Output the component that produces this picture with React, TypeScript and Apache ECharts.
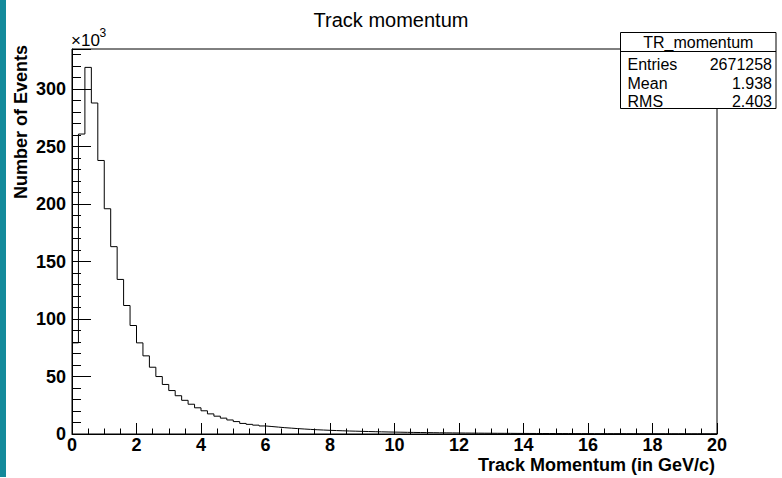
import React, { useEffect, useRef } from "react";
import * as echarts from "echarts";

// Histogram: 100 bins of 0.2 GeV/c from 0 to 20, counts in thousands (×10^3)
const binWidth = 0.2;
const xMin = 0;
const xMax = 20;
const countsK = [
  79.3, 261, 319, 288, 238, 196, 163, 134.5, 111.8, 94.4,
  79.3, 68.0, 58.1, 50.0, 43.1, 37.8, 33.3, 29.3, 25.9, 22.8,
  20.2, 17.5, 15.5, 13.8, 12.2, 10.8, 9.2, 8.4, 7.7, 7.0,
  6.5, 6.0, 5.5, 5.1, 4.7, 4.35, 4.0, 3.7, 3.45, 3.2,
  3.0, 2.8, 2.6, 2.45, 2.3, 2.15, 2.0, 1.88, 1.76, 1.65,
  1.55, 1.45, 1.36, 1.28, 1.2, 1.13, 1.06, 1.0, 0.94, 0.88,
  0.83, 0.78, 0.74, 0.7, 0.66, 0.62, 0.59, 0.56, 0.53, 0.5,
  0.47, 0.45, 0.43, 0.41, 0.39, 0.37, 0.35, 0.33, 0.32, 0.3,
  0.29, 0.28, 0.27, 0.26, 0.25, 0.24, 0.23, 0.22, 0.21, 0.2,
  0.19, 0.185, 0.18, 0.17, 0.165, 0.16, 0.155, 0.15, 0.145, 0.14,
];
const yMax = 335;
const yInterval = 50;
const xInterval = 2;

const chartTitle = "Track momentum";
const xTitle = "Track Momentum (in GeV/c)";
const yTitle = "Number of Events";
const yExponent = "3";
const statsName = "TR_momentum";
const statsLabels = ["Entries", "Mean", "RMS"];
const statsValues = ["2671258", "1.938", "2.403"];

const FONT = "'Liberation Sans', Arial, Helvetica, sans-serif";

export default function App() {
  const ref = useRef<HTMLDivElement>(null);

  useEffect(() => {
    const chart = echarts.init(ref.current!, null, { renderer: "svg" });
    const data: number[][] = countsK.map((v, i) => [xMin + i * binWidth, v]);
    data.push([xMax, countsK[countsK.length - 1]]);

    const statsRowY = [64.5, 83, 101];
    const statsGraphics: any[] = [];
    statsLabels.forEach((lab, i) => {
      statsGraphics.push({
        type: "text",
        z: 12,
        x: 627.5,
        y: statsRowY[i],
        style: { text: lab, fontSize: 16, fontFamily: FONT, fill: "#000", align: "left", verticalAlign: "middle" },
      });
      statsGraphics.push({
        type: "text",
        z: 12,
        x: 772,
        y: statsRowY[i],
        style: { text: statsValues[i], fontSize: 16, fontFamily: FONT, fill: "#000", align: "right", verticalAlign: "middle" },
      });
    });

    chart.setOption({
      animation: false,
      backgroundColor: "#ffffff",
      textStyle: { fontFamily: FONT },
      grid: {
        left: 72,
        right: 65,
        top: 49,
        bottom: 44,
        show: true,
        borderColor: "#000",
        borderWidth: 1,
        backgroundColor: "transparent",
        outerBoundsMode: "none",
      },
      xAxis: {
        type: "value",
        min: xMin,
        max: xMax,
        interval: xInterval,
        axisLine: { show: true, onZero: false, lineStyle: { color: "#000", width: 1 } },
        axisTick: { show: true, inside: true, length: 11, lineStyle: { color: "#000", width: 1 } },
        minorTick: { show: true, splitNumber: 4, length: 5.5, lineStyle: { color: "#000", width: 1 } },
        splitLine: { show: false },
        axisLabel: { margin: 2, fontSize: 18, fontWeight: "bold", color: "#000", fontFamily: FONT },
      },
      yAxis: {
        type: "value",
        min: 0,
        max: yMax,
        interval: yInterval,
        axisLine: { show: true, onZero: false, lineStyle: { color: "#000", width: 1 } },
        axisTick: { show: true, inside: true, length: 19, lineStyle: { color: "#000", width: 1 } },
        minorTick: { show: true, splitNumber: 5, length: 9, lineStyle: { color: "#000", width: 1 } },
        splitLine: { show: false },
        axisLabel: { margin: 6, fontSize: 18, fontWeight: "bold", color: "#000", fontFamily: FONT, showMaxLabel: false },
      },
      series: [
        {
          type: "line",
          step: "end",
          data,
          showSymbol: false,
          symbol: "none",
          silent: true,
          lineStyle: { color: "#000", width: 1 },
          clip: true,
        },
      ],
      graphic: [
        { type: "rect", z: 5, shape: { x: 0, y: 0, width: 6, height: 477 }, style: { fill: "#148a9b" } },
        {
          type: "text",
          z: 10,
          x: 391,
          y: 20,
          style: { text: chartTitle, fontSize: 20, fontFamily: FONT, fill: "#000", align: "center", verticalAlign: "middle" },
        },
        {
          type: "text",
          z: 10,
          x: 715,
          y: 465,
          style: { text: xTitle, fontSize: 18, fontWeight: "bold", fontFamily: FONT, fill: "#000", align: "right", verticalAlign: "middle" },
        },
        {
          type: "text",
          z: 10,
          x: 21,
          y: 45,
          rotation: Math.PI / 2,
          style: { text: yTitle, fontSize: 18, fontWeight: "bold", fontFamily: FONT, fill: "#000", align: "right", verticalAlign: "middle" },
        },
        {
          type: "text",
          z: 10,
          x: 71,
          y: 40,
          style: { text: "×10", fontSize: 17, fontFamily: FONT, fill: "#000", align: "left", verticalAlign: "middle" },
        },
        {
          type: "text",
          z: 10,
          x: 99.5,
          y: 32.5,
          style: { text: yExponent, fontSize: 12, fontFamily: FONT, fill: "#000", align: "left", verticalAlign: "middle" },
        },
        {
          type: "rect",
          z: 11,
          shape: { x: 620.5, y: 32.5, width: 155.5, height: 76 },
          style: { fill: "#fff", stroke: "#000", lineWidth: 1 },
        },
        {
          type: "line",
          z: 12,
          shape: { x1: 620.5, y1: 51.5, x2: 776, y2: 51.5 },
          style: { stroke: "#000", lineWidth: 1 },
        },
        {
          type: "text",
          z: 12,
          x: 698.3,
          y: 42.5,
          style: { text: statsName, fontSize: 16, fontFamily: FONT, fill: "#000", align: "center", verticalAlign: "middle" },
        },
        ...statsGraphics,
      ],
    });

    return () => chart.dispose();
  }, []);

  return (
    <div
      ref={ref}
      style={{ position: "fixed", left: 0, top: 0, width: 782, height: 478, background: "#fff" }}
    />
  );
}
